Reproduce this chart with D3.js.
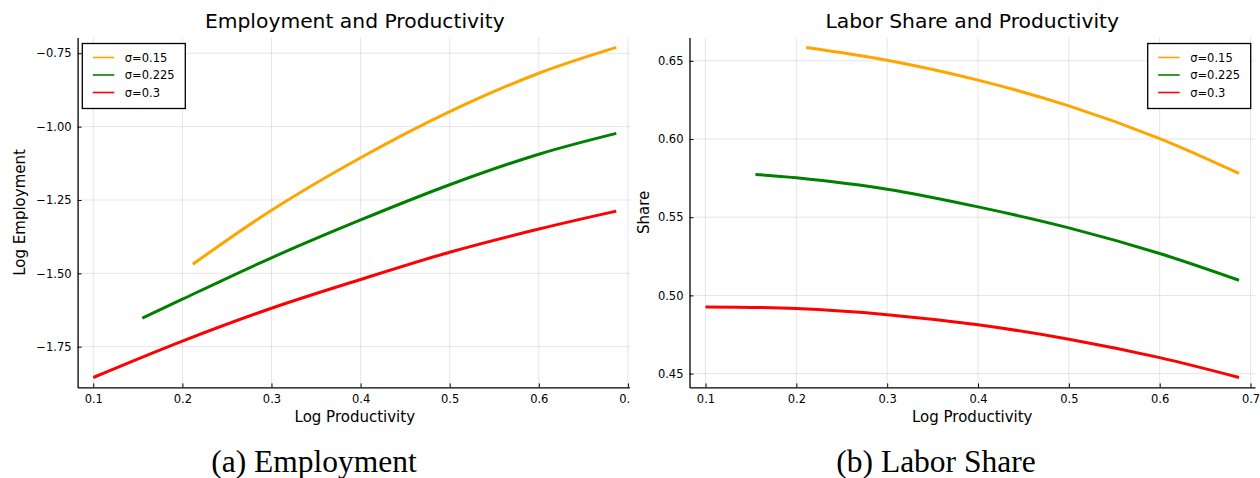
<!DOCTYPE html>
<html>
<head>
<meta charset="utf-8">
<script src="https://cdn.jsdelivr.net/npm/d3@7/dist/d3.min.js"></script>
<style>
  html, body { margin: 0; padding: 0; background: #fff; }
  svg { display: block; }
  .tick text { font-family: "DejaVu Sans", sans-serif; font-size: 11.5px; fill: #000; }
</style>
</head>
<body>
<svg id="chart" width="1260" height="478"></svg>
<script>
// ---- data ----
const sigmaLabels = ["σ=0.15", "σ=0.225", "σ=0.3"];
const xTicks = [0.1, 0.2, 0.3, 0.4, 0.5, 0.6, 0.7];
const empTicks = [-1.75, -1.5, -1.25, -1.0, -0.75];
const shareTicks = [0.45, 0.5, 0.55, 0.6, 0.65];

// (a) log employment vs log productivity
const empX015 = [0.2117, 0.3, 0.4, 0.5, 0.6, 0.687];
const empY015 = [-1.469, -1.285, -1.106, -0.949, -0.818, -0.730];
const empX0225 = [0.155, 0.2, 0.3, 0.4, 0.5, 0.6, 0.687];
const empY0225 = [-1.653, -1.588, -1.447, -1.318, -1.198, -1.094, -1.023];
const empX03 = [0.1, 0.2, 0.3, 0.4, 0.5, 0.6, 0.687];
const empY03 = [-1.855, -1.731, -1.619, -1.521, -1.428, -1.349, -1.288];

// (b) labor share vs log productivity
const shareX015 = [0.2109, 0.3, 0.4, 0.5, 0.6, 0.6873];
const shareY015 = [0.6586, 0.6504, 0.6377, 0.6212, 0.6003, 0.578];
const shareX0225 = [0.155, 0.2, 0.3, 0.4, 0.5, 0.6, 0.6873];
const shareY0225 = [0.5773, 0.5752, 0.5679, 0.5566, 0.5432, 0.5268, 0.5097];
const shareX03 = [0.1, 0.2, 0.3, 0.4, 0.5, 0.6, 0.6873];
const shareY03 = [0.4926, 0.4916, 0.4877, 0.4812, 0.472, 0.4602, 0.4475];

const colors = ["#FFA500", "#008000", "#FF0000"];
const FONT = '"DejaVu Sans", sans-serif';

const svg = d3.select("#chart");
svg.append("rect").attr("width", 1260).attr("height", 478).attr("fill", "#fff");

// left figure is cropped at x=630 in the original
svg.append("defs").append("clipPath").attr("id", "leftClip")
    .append("rect").attr("x", 0).attr("y", 0).attr("width", 630).attr("height", 478);

// pad extent by 3% like the plotting lib does
function padded(vals) {
    const [lo, hi] = d3.extent(vals);
    const p = (hi - lo) * 0.03;
    return [lo - p, hi + p];
}

function drawPanel(opts) {
    const g = svg.append("g");
    if (opts.clip) g.attr("clip-path", "url(#leftClip)");

    const allX = opts.series.flatMap(s => s.x);
    const allY = opts.series.flatMap(s => s.y);
    const x = d3.scaleLinear().domain(padded(allX)).range([opts.left, opts.right]);
    const y = d3.scaleLinear().domain(padded(allY)).range([opts.bottom, opts.top]);

    // grid
    g.append("g").selectAll("line").data(opts.xTicks).join("line")
        .attr("x1", d => x(d)).attr("x2", d => x(d))
        .attr("y1", opts.top).attr("y2", opts.bottom)
        .attr("stroke", "#000").attr("stroke-opacity", 0.1).attr("stroke-width", 1);
    g.append("g").selectAll("line").data(opts.yTicks).join("line")
        .attr("x1", opts.left).attr("x2", opts.right)
        .attr("y1", d => y(d)).attr("y2", d => y(d))
        .attr("stroke", "#000").attr("stroke-opacity", 0.1).attr("stroke-width", 1);

    // axes (ticks point inward)
    const xAxis = g.append("g")
        .attr("transform", `translate(0,${opts.bottom})`)
        .call(d3.axisBottom(x).tickValues(opts.xTicks).tickFormat(d3.format(".1f"))
            .tickSizeInner(-4).tickSizeOuter(0).tickPadding(7));
    const yAxis = g.append("g")
        .attr("transform", `translate(${opts.left},0)`)
        .call(d3.axisLeft(y).tickValues(opts.yTicks).tickFormat(d3.format(".2f"))
            .tickSizeInner(-4).tickSizeOuter(0).tickPadding(6));
    [xAxis, yAxis].forEach(a => {
        a.select(".domain").attr("stroke", "#000").attr("stroke-width", 1.3);
        a.selectAll(".tick line").attr("stroke", "#000").attr("stroke-width", 1);
        a.attr("font-family", null).attr("font-size", null);
    });

    // lines
    const line = d3.line().x(d => x(d[0])).y(d => y(d[1])).curve(d3.curveCatmullRom.alpha(0.5));
    opts.series.forEach((s, i) => {
        g.append("path")
            .datum(d3.zip(s.x, s.y))
            .attr("fill", "none")
            .attr("stroke", colors[i])
            .attr("stroke-width", 3)
            .attr("stroke-linecap", "butt")
            .attr("d", line);
    });

    // title + axis labels
    const cx = (opts.left + opts.right) / 2;
    g.append("text").attr("x", cx).attr("y", 28)
        .attr("text-anchor", "middle").attr("font-family", FONT).attr("font-size", 20.3)
        .text(opts.title);
    g.append("text").attr("x", cx).attr("y", 422)
        .attr("text-anchor", "middle").attr("font-family", FONT).attr("font-size", 15)
        .text("Log Productivity");
    g.append("text")
        .attr("transform", `translate(${opts.ylabelX},${(opts.top + opts.bottom) / 2}) rotate(-90)`)
        .attr("text-anchor", "middle").attr("font-family", FONT).attr("font-size", 15)
        .text(opts.ylabel);

    // legend
    const lg = g.append("g").attr("transform", `translate(${opts.legendX},${opts.top + 6})`);
    lg.append("rect").attr("width", 103).attr("height", 65)
        .attr("fill", "#fff").attr("stroke", "#000").attr("stroke-width", 1.3);
    sigmaLabels.forEach((lab, i) => {
        const ly = 14 + i * 17.5;
        lg.append("line").attr("x1", 10.5).attr("x2", 32).attr("y1", ly).attr("y2", ly)
            .attr("stroke", colors[i]).attr("stroke-width", 1.6);
        lg.append("text").attr("x", 42.5).attr("y", ly).attr("dy", "0.35em")
            .attr("font-family", FONT).attr("font-size", 11.5).text(lab);
    });

    // caption
    svg.append("text").attr("x", opts.captionX).attr("y", 472)
        .attr("text-anchor", "middle").attr("font-family", '"Liberation Serif", serif')
        .attr("font-size", 31.5).text(opts.caption);
}

drawPanel({
    left: 77.6, right: 632, top: 37.5, bottom: 387.4, clip: true,
    xTicks: xTicks, yTicks: empTicks,
    series: [{x: empX015, y: empY015}, {x: empX0225, y: empY0225}, {x: empX03, y: empY03}],
    title: "Employment and Productivity", ylabel: "Log Employment", ylabelX: 25,
    legendX: 82.3, caption: "(a) Employment", captionX: 314
});

drawPanel({
    left: 689.5, right: 1255, top: 37.5, bottom: 387.4, clip: false,
    xTicks: xTicks, yTicks: shareTicks,
    series: [{x: shareX015, y: shareY015}, {x: shareX0225, y: shareY0225}, {x: shareX03, y: shareY03}],
    title: "Labor Share and Productivity", ylabel: "Share", ylabelX: 649,
    legendX: 1147.7, caption: "(b) Labor Share", captionX: 936
});
</script>
</body>
</html>
